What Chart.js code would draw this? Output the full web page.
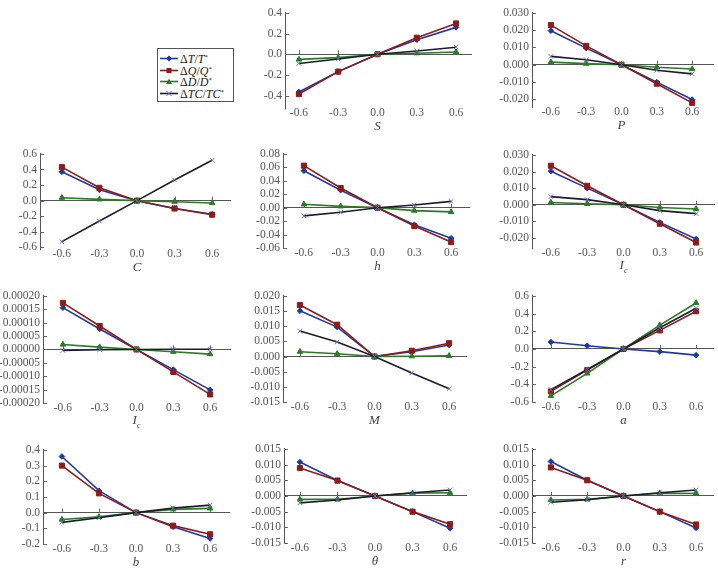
<!DOCTYPE html>
<html>
<head>
<meta charset="utf-8">
<script src="https://cdn.jsdelivr.net/npm/chart.js@4"></script>
<style>
    html, body { margin: 0; padding: 0; background: #fff; }
    body { position: relative; width: 718px; height: 569px; overflow: hidden; }
    canvas { position: absolute; }
    .xtitle { position: absolute; font-family: "Liberation Serif", "DejaVu Serif", serif; font-style: italic; font-size: 13px; color: #444; transform: translate(-50%, -50%); white-space: nowrap; }
    .xtitle sub { font-size: 8px; }
    #legend { position: absolute; left: 157px; top: 48px; width: 77px; height: 54px; border: 1px solid #555; box-sizing: border-box; padding-top: 4px; font-family: "Liberation Serif", "DejaVu Serif", serif; font-size: 12px; color: #222; }
    #legend .row { height: 11.5px; line-height: 11.5px; white-space: nowrap; display: flex; align-items: center; }
    #legend svg { margin: 0 2px 0 2px; }
    #legend sup { font-size: 7px; vertical-align: 4px; }
</style>
</head>
<body>
<div id="legend"></div>
<script>
// x 값 (모든 패널 공통)
const xValues = [-0.6, -0.3, 0, 0.3, 0.6];
const xTicks = [-0.6, -0.3, 0, 0.3, 0.6];

// 범례
const seriesLabels = ['ΔT/T*', 'ΔQ/Q*', 'ΔD/D*', 'ΔTC/TC*'];

// --- 패널별 데이터 (T, Q, D, TC) ---
const S_T  = [-0.365, -0.168, 0, 0.140, 0.260];
const S_Q  = [-0.385, -0.168, 0, 0.160, 0.298];
const S_D  = [-0.050, -0.033, 0, 0.010, 0.022];
const S_TC = [-0.089, -0.046, 0, 0.032, 0.068];

const P_T  = [0.0197, 0.0096, 0, -0.0101, -0.0202];
const P_Q  = [0.0229, 0.0109, 0, -0.0110, -0.0221];
const P_D  = [0.0015, 0.0006, 0, -0.0015, -0.0025];
const P_TC = [0.0048, 0.0029, 0, -0.0032, -0.0053];

const C_T  = [0.370, 0.139, 0, -0.100, -0.175];
const C_Q  = [0.430, 0.165, 0, -0.100, -0.180];
const C_D  = [0.038, 0.017, 0, -0.013, -0.030];
const C_TC = [-0.526, -0.261, 0, 0.265, 0.518];

const h_T  = [0.0550, 0.0260, 0, -0.0254, -0.0454];
const h_Q  = [0.0625, 0.0293, 0, -0.0273, -0.0512];
const h_D  = [0.0050, 0.0020, 0, -0.0044, -0.0063];
const h_TC = [-0.0122, -0.0068, 0, 0.0040, 0.0093];

const Ic1_T  = [0.0202, 0.0100, 0, -0.0106, -0.0206];
const Ic1_Q  = [0.0235, 0.0114, 0, -0.0114, -0.0227];
const Ic1_D  = [0.0014, 0.0006, 0, -0.0016, -0.0025];
const Ic1_TC = [0.0049, 0.0031, 0, -0.0035, -0.0053];

const Ic2_T  = [0.000156, 0.0000765, 0, -0.0000753, -0.000151];
const Ic2_Q  = [0.000174, 0.0000877, 0, -0.0000840, -0.000168];
const Ic2_D  = [0.0000185, 0.0000086, 0, -0.0000086, -0.0000173];
const Ic2_TC = [-0.0000037, -0.0000010, 0, 0.0000010, 0.0000010];

const M_T  = [0.0151, 0.0097, 0, 0.0016, 0.0038];
const M_Q  = [0.0170, 0.0105, 0, 0.0019, 0.0044];
const M_D  = [0.0016, 0.0009, 0, 0.0001, 0.0002];
const M_TC = [0.0084, 0.0048, 0, -0.0054, -0.0106];

const a_T  = [0.078, 0.037, 0, -0.030, -0.070];
const a_Q  = [-0.480, -0.240, 0, 0.210, 0.426];
const a_D  = [-0.530, -0.277, 0, 0.270, 0.520];
const a_TC = [-0.460, -0.233, 0, 0.240, 0.460];

const b_T  = [0.358, 0.140, 0, -0.090, -0.165];
const b_Q  = [0.300, 0.123, 0, -0.083, -0.138];
const b_D  = [-0.044, -0.027, 0, 0.021, 0.027];
const b_TC = [-0.062, -0.033, 0, 0.029, 0.048];

const th_T  = [0.0108, 0.0049, 0, -0.0050, -0.0103];
const th_Q  = [0.0089, 0.0049, 0, -0.0050, -0.0090];
const th_D  = [-0.0011, -0.0011, 0, 0.0009, 0.0010];
const th_TC = [-0.0022, -0.0013, 0, 0.0010, 0.0019];

const r_T  = [0.0110, 0.0050, 0, -0.0050, -0.0102];
const r_Q  = [0.0091, 0.0050, 0, -0.0050, -0.0091];
const r_D  = [-0.0013, -0.0011, 0, 0.0009, 0.0008];
const r_TC = [-0.0020, -0.0012, 0, 0.0010, 0.0019];

// 시리즈 스타일
const seriesStyle = [
    { color: '#1f3a9e', marker: '#1f3a9e', point: 'rectRot', radius: 2.8, order: 4 },
    { color: '#8e1b1b', marker: '#8e1b1b', point: 'rect', radius: 3.6, order: 3 },
    { color: '#2b7a24', marker: '#2b7a24', point: 'triangle', radius: 3.2, order: 2 },
    { color: '#1b1b30', marker: '#6d6db8', point: 'crossRot', radius: 3.2, order: 1 }
];

// 패널 배치: left=y축 x, top/bottom=y축 위/아래, x06m/x06=-0.6, 0.6 위치, right=0선 끝
const panels = [
    { title: 'S', data: [S_T, S_Q, S_D, S_TC], yMin: -0.52, yMax: 0.4, step: 0.2, dec: 1,
      left: 285, top: 11, bottom: 108, x06m: 299, x06: 457, right: 473 },
    { title: 'P', data: [P_T, P_Q, P_D, P_TC], yMin: -0.0245, yMax: 0.030, step: 0.010, dec: 3,
      left: 532, top: 11, bottom: 107, x06m: 551, x06: 693, right: 715 },
    { title: 'C', data: [C_T, C_Q, C_D, C_TC], yMin: -0.62, yMax: 0.6, step: 0.2, dec: 1,
      left: 40, top: 152, bottom: 249, x06m: 62, x06: 213, right: 232 },
    { title: 'h', data: [h_T, h_Q, h_D, h_TC], yMin: -0.06, yMax: 0.08, step: 0.02, dec: 2,
      left: 283, top: 152, bottom: 248, x06m: 304, x06: 452, right: 471 },
    { title: 'I<sub>c</sub>', data: [Ic1_T, Ic1_Q, Ic1_D, Ic1_TC], yMin: -0.026, yMax: 0.030, step: 0.010, dec: 3,
      left: 532, top: 153, bottom: 248, x06m: 551, x06: 697, right: 716 },
    { title: 'I<sub>c</sub>', data: [Ic2_T, Ic2_Q, Ic2_D, Ic2_TC], yMin: -0.0002, yMax: 0.0002, step: 0.00005, dec: 5,
      left: 43, top: 294, bottom: 403, x06m: 63, x06: 211, right: 232 },
    { title: 'M', data: [M_T, M_Q, M_D, M_TC], yMin: -0.015, yMax: 0.020, step: 0.005, dec: 3,
      left: 283, top: 294, bottom: 402, x06m: 300, x06: 450, right: 468 },
    { title: 'a', data: [a_T, a_Q, a_D, a_TC], yMin: -0.6, yMax: 0.6, step: 0.2, dec: 1,
      left: 532, top: 294, bottom: 402, x06m: 551, x06: 697, right: 715 },
    { title: 'b', data: [b_T, b_Q, b_D, b_TC], yMin: -0.2, yMax: 0.4, step: 0.1, dec: 1,
      left: 43, top: 448, bottom: 544, x06m: 62, x06: 211, right: 231 },
    { title: 'θ', data: [th_T, th_Q, th_D, th_TC], yMin: -0.015, yMax: 0.015, step: 0.005, dec: 3,
      left: 284, top: 447, bottom: 543, x06m: 300, x06: 451, right: 468 },
    { title: 'r', data: [r_T, r_Q, r_D, r_TC], yMin: -0.015, yMax: 0.015, step: 0.005, dec: 3,
      left: 532, top: 447, bottom: 543, x06m: 551, x06: 697, right: 715 }
];

const Y_AXIS_W = 60;
const PAD_TOP = 8;
const X_AXIS_H = 24;
const FONT = '"Liberation Serif", "DejaVu Serif", serif';

// 축 안쪽 눈금 (y축, 0선)
const innerTicks = {
    id: 'innerTicks',
    beforeDatasetsDraw(chart) {
        const { ctx, chartArea, scales } = chart;
        const y0 = scales.y.getPixelForValue(0);
        ctx.save();
        ctx.strokeStyle = '#666';
        ctx.lineWidth = 1;
        ctx.beginPath();
        scales.y.ticks.forEach(t => {
            const py = Math.round(scales.y.getPixelForValue(t.value)) + 0.5;
            ctx.moveTo(chartArea.left, py);
            ctx.lineTo(chartArea.left + 4, py);
        });
        scales.x.ticks.forEach(t => {
            if (t.value === 0) return;
            const px = Math.round(scales.x.getPixelForValue(t.value)) + 0.5;
            ctx.moveTo(px, y0);
            ctx.lineTo(px, y0 - 4);
        });
        ctx.stroke();
        ctx.restore();
    }
};

function fmt(v, dec) {
    const s = v.toFixed(dec);
    return /^-0\.0*$/.test(s) ? s.slice(1) : s;
}

panels.forEach(p => {
    const ppu = (p.x06 - p.x06m) / 1.2;
    const xMin = -0.6 - (p.x06m - p.left) / ppu;
    const xMax = 0.6 + (p.right - p.x06) / ppu;

    const cv = document.createElement('canvas');
    const w = p.right - p.left + Y_AXIS_W + 4;
    const h = p.bottom - p.top + PAD_TOP + X_AXIS_H;
    cv.width = w;
    cv.height = h;
    cv.style.width = w + 'px';
    cv.style.height = h + 'px';
    cv.style.left = (p.left - Y_AXIS_W) + 'px';
    cv.style.top = (p.top - PAD_TOP) + 'px';
    document.body.appendChild(cv);

    const yTicks = [];
    for (let k = Math.ceil(p.yMin / p.step - 1e-6); k * p.step <= p.yMax + p.step * 1e-6; k++) {
        yTicks.push(k * p.step);
    }

    const datasets = p.data.map((arr, i) => {
        const st = seriesStyle[i];
        return {
            label: seriesLabels[i],
            data: arr.map((v, j) => ({ x: xValues[j], y: v })),
            borderColor: st.color,
            backgroundColor: st.marker,
            pointBorderColor: st.marker,
            pointBackgroundColor: st.marker,
            pointStyle: st.point,
            pointRadius: st.radius,
            pointBorderWidth: 1,
            borderWidth: 1.6,
            tension: 0,
            order: st.order
        };
    });

    const chart = new Chart(cv.getContext('2d'), {
        type: 'line',
        data: { datasets },
        plugins: [innerTicks],
        options: {
            responsive: false,
            animation: false,
            events: [],
            layout: { padding: { top: PAD_TOP, right: 4, left: 0, bottom: 0 } },
            plugins: { legend: { display: false }, tooltip: { enabled: false } },
            scales: {
                x: {
                    type: 'linear',
                    min: xMin,
                    max: xMax,
                    afterBuildTicks: s => { s.ticks = xTicks.map(v => ({ value: v })); },
                    afterFit: s => { s.height = X_AXIS_H; },
                    border: { display: false },
                    grid: { display: false, drawTicks: false },
                    ticks: {
                        padding: -2,
                        maxRotation: 0,
                        autoSkip: false,
                        color: '#555',
                        font: { family: FONT, size: 11.5 },
                        callback: v => fmt(v, 1)
                    }
                },
                y: {
                    type: 'linear',
                    min: p.yMin,
                    max: p.yMax,
                    afterBuildTicks: s => { s.ticks = yTicks.map(v => ({ value: v })); },
                    afterFit: s => { s.width = Y_AXIS_W; },
                    border: { display: true, color: '#555', width: 1 },
                    grid: {
                        drawTicks: false,
                        lineWidth: 1,
                        color: c => (c.tick && Math.abs(c.tick.value) < p.step * 1e-6) ? '#555' : 'rgba(0,0,0,0)'
                    },
                    ticks: {
                        padding: 3,
                        autoSkip: false,
                        color: '#555',
                        font: { family: FONT, size: 11.5 },
                        callback: v => fmt(v, p.dec)
                    }
                }
            }
        }
    });

    // x축 제목 (아래첨자 때문에 HTML로)
    const t = document.createElement('div');
    t.className = 'xtitle';
    t.innerHTML = p.title;
    t.style.left = (p.left - Y_AXIS_W + chart.scales.x.getPixelForValue(0)) + 'px';
    t.style.top = (p.bottom + 18) + 'px';
    document.body.appendChild(t);
});

// 범례
const legend = document.getElementById('legend');
seriesLabels.forEach((lab, i) => {
    const st = seriesStyle[i];
    let mk = '';
    if (st.point === 'rectRot') mk = `<polygon points="9,1.5 12,4.5 9,7.5 6,4.5" fill="${st.marker}"/>`;
    if (st.point === 'rect') mk = `<rect x="6.5" y="2" width="5" height="5" fill="${st.marker}"/>`;
    if (st.point === 'triangle') mk = `<polygon points="9,1.5 12,7 6,7" fill="${st.marker}"/>`;
    if (st.point === 'crossRot') mk = `<path d="M6.5,2 L11.5,7 M11.5,2 L6.5,7" stroke="${st.marker}" stroke-width="1"/>`;
    const html = lab.replace(/([A-Z]+)/g, '<i>$1</i>').replace('*', '<sup>*</sup>');
    const row = document.createElement('div');
    row.className = 'row';
    row.innerHTML = `<svg width="18" height="9"><line x1="0" y1="4.5" x2="18" y2="4.5" stroke="${st.color}" stroke-width="1.6"/>${mk}</svg><span>${html}</span>`;
    legend.appendChild(row);
});
</script>
</body>
</html>
